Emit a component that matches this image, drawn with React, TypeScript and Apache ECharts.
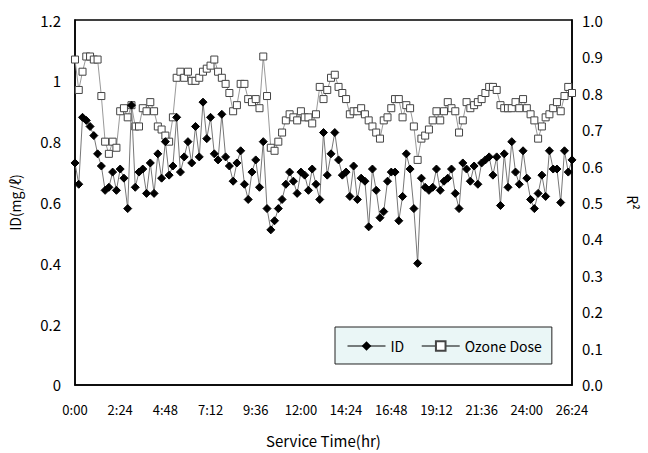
import React, { useEffect, useRef } from "react";
import * as echarts from "echarts";

// sampling step of the series, minutes
const STEP_MIN = 12;

const xTickLabels = ["0:00", "2:24", "4:48", "7:12", "9:36", "12:00", "14:24", "16:48", "19:12", "21:36", "24:00", "26:24"];

const idValues = [
  0.73, 0.66, 0.88, 0.87, 0.85, 0.82, 0.76, 0.72, 0.64, 0.65,
  0.70, 0.64, 0.71, 0.68, 0.58, 0.92, 0.65, 0.70, 0.71, 0.63,
  0.73, 0.63, 0.76, 0.68, 0.80, 0.69, 0.72, 0.88, 0.70, 0.75,
  0.80, 0.73, 0.85, 0.75, 0.93, 0.81, 0.88, 0.76, 0.74, 0.89,
  0.75, 0.72, 0.67, 0.73, 0.77, 0.66, 0.61, 0.70, 0.74, 0.65,
  0.80, 0.58, 0.51, 0.54, 0.58, 0.61, 0.66, 0.70, 0.67, 0.63,
  0.70, 0.69, 0.64, 0.71, 0.66, 0.61, 0.83, 0.69, 0.76, 0.83,
  0.74, 0.69, 0.70, 0.62, 0.72, 0.61, 0.68, 0.67, 0.52, 0.71,
  0.64, 0.55, 0.57, 0.67, 0.70, 0.70, 0.54, 0.62, 0.76, 0.71,
  0.58, 0.40, 0.68, 0.65, 0.64, 0.65, 0.71, 0.64, 0.67, 0.68,
  0.71, 0.63, 0.58, 0.73, 0.71, 0.67, 0.72, 0.66, 0.73, 0.74,
  0.75, 0.69, 0.75, 0.59, 0.76, 0.65, 0.80, 0.70, 0.66, 0.77,
  0.68, 0.61, 0.58, 0.63, 0.69, 0.62, 0.77, 0.71, 0.71, 0.60,
  0.77, 0.70, 0.74,
];

const ozoneValues = [
  1.07, 0.97, 1.03, 1.08, 1.08, 1.07, 1.07, 0.95, 0.80, 0.76,
  0.80, 0.78, 0.90, 0.91, 0.88, 0.92, 0.85, 0.85, 0.91, 0.90,
  0.93, 0.90, 0.85, 0.84, 0.82, 0.80, 0.88, 1.01, 1.03, 1.01,
  1.03, 1.00, 1.00, 1.01, 1.03, 1.04, 1.05, 1.07, 1.03, 1.01,
  0.99, 0.96, 0.90, 0.92, 0.99, 0.99, 0.94, 0.93, 0.94, 0.91,
  1.08, 0.95, 0.78, 0.77, 0.80, 0.83, 0.87, 0.89, 0.88, 0.87,
  0.90, 0.88, 0.88, 0.86, 0.89, 0.98, 0.94, 0.97, 1.01, 1.02,
  0.98, 0.96, 0.94, 0.89, 0.90, 0.90, 0.91, 0.89, 0.87, 0.85,
  0.83, 0.81, 0.87, 0.88, 0.91, 0.94, 0.94, 0.88, 0.92, 0.91,
  0.85, 0.74, 0.81, 0.82, 0.84, 0.87, 0.90, 0.87, 0.90, 0.93,
  0.91, 0.90, 0.83, 0.87, 0.93, 0.91, 0.92, 0.93, 0.94, 0.96,
  0.98, 0.98, 0.97, 0.92, 0.91, 0.91, 0.91, 0.93, 0.91, 0.94,
  0.91, 0.89, 0.87, 0.81, 0.85, 0.88, 0.89, 0.91, 0.93, 0.90,
  0.95, 0.98, 0.96,
];

const FONT = "'Noto Sans CJK KR', 'Liberation Sans', sans-serif";

function fmtTime(v: number): string {
  const h = Math.floor(v / 60);
  const m = Math.round(v % 60);
  return `${h}:${String(m).padStart(2, "0")}`;
}

export default function App() {
  const ref = useRef<HTMLDivElement>(null);

  useEffect(() => {
    if (!ref.current) return;
    const chart = echarts.init(ref.current, undefined, { renderer: "svg" });
    const idData = idValues.map((v, i) => [i * STEP_MIN, v]);
    const ozData = ozoneValues.map((v, i) => [i * STEP_MIN, v]);
    const maxMin = (xTickLabels.length - 1) * 144;

    chart.setOption({
      animation: false,
      backgroundColor: "#fff",
      textStyle: { fontFamily: FONT },
      grid: {
        left: 71,
        right: 60,
        top: 20,
        bottom: 67,
        show: true,
        borderColor: "#000",
        borderWidth: 1.5,
        backgroundColor: "transparent",
      },
      legend: {
        orient: "horizontal",
        left: 335,
        top: 327,
        width: 300,
        itemGap: 17,
        itemWidth: 38,
        itemHeight: 12,
        padding: [12, 10, 11, 12],
        backgroundColor: "#eaf6f6",
        borderColor: "#222",
        borderWidth: 1,
        borderRadius: 0,
        textStyle: { fontFamily: FONT, fontSize: 14, color: "#000" },
        lineStyle: { color: "#000", width: 1 },
        data: ["ID", "Ozone Dose"],
      },
      xAxis: {
        type: "value",
        min: 0,
        max: maxMin,
        interval: 144,
        name: "Service Time(hr)",
        nameLocation: "middle",
        nameGap: 48,
        nameTextStyle: { fontFamily: FONT, fontSize: 15, color: "#000" },
        axisLine: { show: true, lineStyle: { color: "#000", width: 1.5 } },
        axisTick: { show: false },
        splitLine: { show: false },
        axisLabel: {
          color: "#000",
          fontSize: 13,
          fontFamily: FONT,
          margin: 18,
          formatter: (v: number) => fmtTime(v),
        },
      },
      yAxis: [
        {
          type: "value",
          min: 0,
          max: 1.2,
          interval: 0.2,
          name: "ID(mg/ℓ)",
          nameLocation: "middle",
          nameGap: 53,
          nameRotate: 90,
          nameTextStyle: { fontFamily: FONT, fontSize: 14, color: "#000" },
          axisLine: { show: true, lineStyle: { color: "#000", width: 1.5 } },
          axisTick: { show: false },
          splitLine: { show: false },
          axisLabel: {
            color: "#000",
            fontSize: 15,
            fontFamily: FONT,
            margin: 14,
            formatter: (v: number) => String(Math.round(v * 10) / 10),
          },
        },
        {
          type: "value",
          min: 0,
          max: 1,
          interval: 0.1,
          position: "right",
          name: "R²",
          nameLocation: "middle",
          nameGap: 54,
          nameRotate: -90,
          nameTextStyle: { fontFamily: FONT, fontSize: 14, color: "#000" },
          axisLine: { show: true, lineStyle: { color: "#000", width: 1.5 } },
          axisTick: { show: false },
          splitLine: { show: false },
          axisLabel: {
            color: "#000",
            fontSize: 15,
            fontFamily: FONT,
            margin: 10,
            formatter: (v: number) => v.toFixed(1),
          },
        },
      ],
      series: [
        {
          name: "Ozone Dose",
          type: "line",
          yAxisIndex: 0,
          data: ozData,
          symbol: "rect",
          symbolSize: 7,
          showAllSymbol: true,
          lineStyle: { color: "#999", width: 1 },
          itemStyle: { color: "#fff", borderColor: "#444", borderWidth: 1 },
          z: 2,
        },
        {
          name: "ID",
          type: "line",
          yAxisIndex: 0,
          data: idData,
          symbol: "diamond",
          symbolSize: 8,
          showAllSymbol: true,
          lineStyle: { color: "#777", width: 1 },
          itemStyle: { color: "#000", borderColor: "#000" },
          z: 3,
        },
      ],
    });
    return () => chart.dispose();
  }, []);

  return (
    <div
      ref={ref}
      style={{ position: "fixed", left: 0, top: 0, width: 648, height: 453 }}
    />
  );
}
